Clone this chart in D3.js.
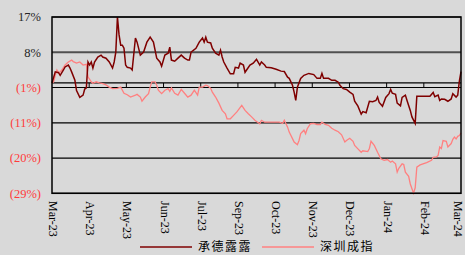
<!DOCTYPE html>
<html>
<head>
<meta charset="utf-8">
<script src="https://cdn.jsdelivr.net/npm/d3@7"></script>
<style>
  body { margin: 0; background: #d9d9d9; }
  svg { display: block; }
</style>
</head>
<body>
<svg id="chart" width="465" height="255"></svg>
<script>
// x axis labels (evenly spaced over the trading-day index)
const monthLabels = ["Mar-23", "Apr-23", "May-23", "Jun-23", "Jul-23", "Sep-23",
                     "Oct-23", "Nov-23", "Dec-23", "Jan-24", "Feb-24", "Mar-24"]
const yTicks = [17.3, 8.05, -1.2, -10.45, -19.7, -28.95]
const yTickLabels = ["17%", "8%", "(1%)", "(11%)", "(20%)", "(29%)"]
const seriesNames = ["承德露露", "深圳成指"]
const seriesColors = ["#7f0000", "#ff8080"]

// [trading day, cumulative return %]
const luluData = [
  [0, 0], [2, 2.9], [4, 2.7], [5, 2.0], [7, 3.4], [8, 4.2], [10, 4.7], [11, 3.9], [12, 2.9],
  [14, 0.7], [15, -2.0], [17, -3.8], [19, -3.2], [20, -1.6], [21, -1.3], [22, 5.5], [23, 4.7],
  [24, 5.5], [25, 3.9], [26, 5.5], [28, 6.8], [30, 7.3], [31, 6.8], [33, 6.5], [35, 5.5],
  [37, 3.9], [38, 5.5], [39, 8.1], [40, 17.3], [41, 12.6], [42, 9.9], [43, 9.9], [44, 9.1],
  [45, 4.7], [46, 4.1], [48, 3.9], [49, 3.4], [51, 11.8], [52, 10.7], [54, 7.3], [56, 8.1],
  [58, 10.7], [60, 12.0], [62, 10.7], [64, 6.5], [66, 5.5], [67, 4.4], [69, 7.3], [71, 7.8],
  [72, 9.4], [73, 6.0], [75, 5.7], [77, 6.5], [79, 7.3], [81, 6.5], [83, 6.0], [84, 6.0],
  [85, 8.1], [88, 9.1], [90, 10.7], [92, 11.8], [93, 10.7], [94, 12.0], [95, 10.7], [97, 10.5],
  [98, 9.1], [100, 7.8], [102, 7.3], [103, 8.6], [104, 6.8], [105, 5.5], [107, 3.9], [109, 2.4],
  [111, 2.4], [112, 4.1], [114, 3.9], [115, 5.2], [117, 4.7], [118, 2.8], [121, 4.7], [123, 5.2],
  [125, 6.2], [127, 4.7], [128, 5.5], [130, 4.7], [131, 4.1], [134, 4.0], [137, 3.6], [140, 3.1],
  [142, 3.0], [144, 1.5], [145, 1.2], [147, -0.6], [148, -2.4], [149, -4.6], [150, -1.1],
  [152, 1.2], [154, 2.0], [157, 2.5], [160, 2.2], [162, 1.2], [164, 1.2], [165, 2.5], [166, 1.2],
  [169, 1.2], [171, 0.7], [173, 0.7], [175, 0.2], [176, -0.6], [178, -1.5], [180, -1.7],
  [182, -2.4], [184, -3.0], [185, -4.8], [187, -6.1], [189, -8.2], [190, -7.5], [192, -7.8],
  [194, -4.8], [196, -4.9], [198, -4.6], [199, -3.7], [200, -5.1], [202, -6.1], [204, -3.8],
  [206, -2.8], [207, -1.7], [208, -2.7], [210, -3.0], [211, -5.3], [213, -6.0], [214, -3.8],
  [216, -3.2], [217, -4.6], [219, -7.2], [220, -8.9], [222, -10.6], [223, -3.5], [231, -3.5],
  [233, -2.5], [234, -3.6], [236, -3.2], [237, -4.6], [238, -4.2], [240, -4.3], [242, -4.8],
  [244, -4.2], [245, -2.8], [247, -3.7], [248, -3.2], [249, 0.5], [250, 3.0]
]

const szciData = [
  [0, 0], [1, 0.3], [2, 2.0], [3, 3.4], [4, 2.8], [5, 2.9], [6, 3.4], [8, 4.7], [10, 5.5],
  [12, 6.0], [13, 5.6], [15, 5.2], [17, 5.5], [19, 4.7], [21, 4.9], [22, 1.6], [24, 0.3],
  [25, -0.1], [27, 0.3], [29, 0.0], [31, -0.2], [33, -0.5], [35, -1.1], [37, -1.5], [40, -1.4],
  [42, -1.1], [44, -2.7], [46, -3.1], [48, -3.7], [51, -3.2], [52, -3.0], [54, -3.7], [55, -4.8],
  [57, -3.7], [59, -2.8], [60, -1.1], [61, 0.3], [63, 0.3], [64, -0.6], [65, -1.9], [67, -2.8],
  [69, -1.9], [71, -1.5], [72, -2.2], [73, -1.3], [75, -2.7], [77, -3.2], [79, -1.7], [81, -2.7],
  [83, -3.7], [85, -3.2], [87, -1.9], [89, -3.2], [90, -1.1], [92, -1.1], [94, -0.6], [95, -0.7],
  [97, -1.4], [98, -2.4], [100, -3.7], [102, -5.3], [104, -7.2], [106, -8.1], [107, -9.4],
  [109, -9.4], [111, -8.5], [113, -7.6], [116, -5.9], [118, -7.2], [120, -8.1], [122, -8.9],
  [124, -9.8], [125, -10.1], [127, -10.7], [128, -9.8], [130, -10.3], [133, -10.3], [136, -10.3],
  [139, -10.3], [141, -10.6], [142, -9.8], [144, -11.6], [145, -12.9], [147, -14.6], [148, -15.5],
  [150, -16.2], [151, -15.1], [152, -13.3], [154, -12.4], [155, -13.3], [156, -12.0], [158, -10.7],
  [160, -10.6], [162, -10.9], [164, -10.9], [165, -10.3], [167, -10.9], [169, -11.1], [171, -11.9],
  [173, -12.4], [175, -12.8], [177, -13.6], [179, -15.5], [180, -15.1], [182, -14.5], [184, -15.3],
  [185, -16.4], [187, -17.3], [189, -18.2], [190, -17.8], [193, -18.0], [194, -17.2], [195, -15.3],
  [197, -16.4], [199, -18.2], [201, -19.9], [203, -20.3], [205, -20.1], [207, -20.8], [208, -20.5],
  [210, -21.2], [211, -23.4], [212, -22.4], [214, -21.2], [215, -21.4], [216, -23.4], [218, -24.5],
  [219, -26.5], [221, -28.9], [222, -27.5], [223, -22.1], [225, -21.5], [229, -20.9], [232, -20.3],
  [233, -19.5], [235, -19.4], [236, -19.0], [237, -16.8], [238, -17.2], [239, -15.1], [241, -15.3],
  [242, -16.8], [244, -15.9], [245, -14.8], [246, -14.2], [247, -14.7], [248, -14.0], [249, -13.8],
  [250, -13.1]
]

const svg = d3.select("#chart")
const margin = {left: 52, right: 4, top: 17, bottom: 62}
const width = 465, height = 255
const lastDay = d3.max(luluData, d => d[0])

const x = d3.scaleLinear()
    .domain([0, lastDay])
    .range([margin.left, width - margin.right])
const y = d3.scaleLinear()
    .domain(d3.extent(yTicks))
    .range([height - margin.bottom + 0.3, margin.top])

const tickDays = monthLabels.map((m, i) => i * lastDay / (monthLabels.length - 1))

// gridlines
svg.append("g")
    .selectAll("line")
    .data(yTicks)
    .join("line")
    .attr("x1", margin.left).attr("x2", width - margin.right)
    .attr("y1", d => y(d)).attr("y2", d => y(d))
    .attr("stroke", (d, i) => i == 1 ? "#505050" : "#000")
    .attr("stroke-width", (d, i) => i == 1 ? 2.2 : 1.2)

// zero line with month ticks
svg.append("line")
    .attr("x1", margin.left).attr("x2", width - margin.right)
    .attr("y1", y(0)).attr("y2", y(0))
    .attr("stroke", "#000").attr("stroke-width", 1.2)
svg.append("g")
    .selectAll("line")
    .data(tickDays.slice(1, -1))
    .join("line")
    .attr("x1", d => x(d)).attr("x2", d => x(d))
    .attr("y1", y(0)).attr("y2", y(0) + 4.5)
    .attr("stroke", "#000").attr("stroke-width", 1)

// series lines
const line = d3.line()
    .x(d => x(d[0]))
    .y(d => y(d[1]))

svg.append("path")
    .datum(szciData)
    .attr("fill", "none")
    .attr("stroke", seriesColors[1])
    .attr("stroke-width", 1.3)
    .attr("d", line)

svg.append("path")
    .datum(luluData)
    .attr("fill", "none")
    .attr("stroke", seriesColors[0])
    .attr("stroke-width", 1.5)
    .attr("d", line)

// frame
svg.append("rect")
    .attr("x", margin.left).attr("y", margin.top)
    .attr("width", width - margin.right - margin.left)
    .attr("height", y.range()[0] - margin.top)
    .attr("fill", "none")
    .attr("stroke", "#000").attr("stroke-width", 1.5)

// y labels
svg.append("g")
    .selectAll("text")
    .data(yTicks)
    .join("text")
    .attr("x", 41)
    .attr("y", d => y(d))
    .attr("dy", "0.35em")
    .attr("text-anchor", "end")
    .attr("font-family", "Liberation Serif, Times New Roman, serif")
    .attr("font-size", 12.5)
    .attr("fill", d => d < 0 ? "#ff3b3b" : "#262626")
    .text((d, i) => yTickLabels[i])

// x labels (rotated), last one kept inside the window
svg.append("g")
    .selectAll("text")
    .data(monthLabels)
    .join("text")
    .attr("transform", (d, i) => `translate(${Math.min(x(tickDays[i]), width - 8)},201) rotate(90)`)
    .attr("dy", "0.25em")
    .attr("font-family", "Liberation Serif, Times New Roman, serif")
    .attr("font-size", 12)
    .attr("fill", "#000")
    .text(d => d)

// legend
const legend = svg.append("g")
    .selectAll("g")
    .data(seriesNames)
    .join("g")
    .attr("transform", (d, i) => `translate(${140 + i * 122},247)`)
legend.append("line")
    .attr("x1", 0).attr("x2", 52)
    .attr("stroke", (d, i) => seriesColors[i])
    .attr("stroke-width", 1.5)
legend.append("text")
    .attr("x", 58)
    .attr("dy", "0.35em")
    .attr("font-family", "Noto Sans CJK SC, sans-serif")
    .attr("font-size", 12)
    .attr("letter-spacing", 1.5)
    .attr("fill", "#000")
    .text(d => d)
</script>
</body>
</html>
